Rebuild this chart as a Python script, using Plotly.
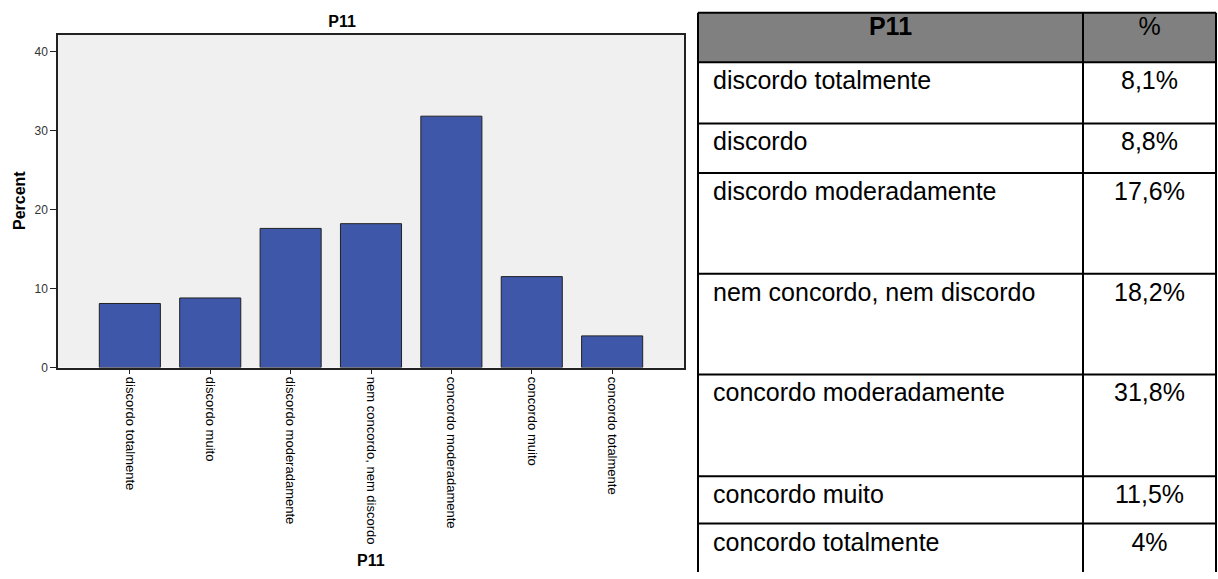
import plotly.graph_objects as go

# ---------------- data ----------------
categories = ["discordo totalmente", "discordo muito", "discordo moderadamente",
              "nem concordo, nem discordo", "concordo moderadamente",
              "concordo muito", "concordo totalmente"]
percent = [8.1, 8.8, 17.6, 18.2, 31.8, 11.5, 4.0]
y_ticks = [0, 10, 20, 30, 40]
table_labels = ["discordo totalmente", "discordo", "discordo moderadamente",
                "nem concordo, nem discordo", "concordo moderadamente",
                "concordo muito", "concordo totalmente"]
table_header = ["P11", "%"]
chart_title = "P11"
x_title = "P11"
y_title = "Percent"

# ---------------- style ----------------
W, H = 1218, 579
FONT = "Arial, 'Liberation Sans', sans-serif"
BAR_COLOR = "#3E57A9"
PLOT_BG = "#F0F0F0"
HEADER_BG = "#808080"
ROW_HEIGHTS = [50, 62, 50, 102, 102, 103, 48, 60]   # header + rows (px)
COL_WIDTHS = [385, 133]
TEXT_OFFSET = 21
HEADER_TEXT_OFFSET = 16
TABLE_FONT = 25


def fmt(v):
    s = f"{v:.1f}".rstrip("0").rstrip(".")
    return s.replace(".", ",") + "%"


table_values = [fmt(v) for v in percent]

# plot area of the chart (px)
px_l, px_r, px_t, px_b = 58, 684, 35, 372
# table area (px)
tb_left, tb_top = 698, 13
pad = 3

fig = go.Figure()

fig.add_trace(go.Bar(
    x=categories, y=percent, width=0.76,
    marker=dict(color=BAR_COLOR, line=dict(color="#222222", width=1)),
    xaxis="x", yaxis="y", showlegend=False, hoverinfo="skip"))

# ---------------- table (hidden axes x2/y2) ----------------
tw = sum(COL_WIDTHS)
bounds = [0]
for h in ROW_HEIGHTS:
    bounds.append(bounds[-1] + h)
row_tops = bounds[1:-1]
col_x = [0, COL_WIDTHS[0], tw]

shapes = []
# chart background
shapes.append(dict(type="rect", xref="x domain", yref="y domain", x0=0, x1=1, y0=0, y1=1,
                   fillcolor=PLOT_BG, line=dict(width=0), layer="below"))
# header fill
shapes.append(dict(type="rect", xref="x2", yref="y2", x0=0, x1=tw, y0=0, y1=ROW_HEIGHTS[0],
                   fillcolor=HEADER_BG, line=dict(width=0), layer="below"))
for yb in bounds[:-1]:
    shapes.append(dict(type="line", xref="x2", yref="y2", x0=0, x1=tw, y0=yb, y1=yb,
                       line=dict(color="black", width=2)))
for xb in col_x:
    shapes.append(dict(type="line", xref="x2", yref="y2", x0=xb, x1=xb, y0=0, y1=bounds[-1],
                       line=dict(color="black", width=2)))

fig.add_trace(go.Scatter(
    x=[COL_WIDTHS[0] / 2, COL_WIDTHS[0] + COL_WIDTHS[1] / 2],
    y=[HEADER_TEXT_OFFSET] * 2,
    text=["<b>" + table_header[0] + "</b>", table_header[1]],
    mode="text", textposition="middle center",
    textfont=dict(size=TABLE_FONT, family=FONT, color="black"),
    xaxis="x2", yaxis="y2", showlegend=False, hoverinfo="skip", cliponaxis=False))

fig.add_trace(go.Scatter(
    x=[15] * len(table_labels),
    y=[t + TEXT_OFFSET for t in row_tops],
    text=table_labels, mode="text", textposition="middle right",
    textfont=dict(size=TABLE_FONT, family=FONT, color="black"),
    xaxis="x2", yaxis="y2", showlegend=False, hoverinfo="skip", cliponaxis=False))

fig.add_trace(go.Scatter(
    x=[COL_WIDTHS[0] + COL_WIDTHS[1] / 2] * len(table_values),
    y=[t + TEXT_OFFSET for t in row_tops],
    text=table_values, mode="text", textposition="middle center",
    textfont=dict(size=TABLE_FONT, family=FONT, color="black"),
    xaxis="x2", yaxis="y2", showlegend=False, hoverinfo="skip", cliponaxis=False))

ymax = (px_b - px_t) / 8.0  # 8 px per percent unit

fig.update_layout(
    width=W, height=H,
    margin=dict(l=0, r=0, t=0, b=0),
    paper_bgcolor="white", plot_bgcolor="rgba(0,0,0,0)",
    font=dict(family=FONT, color="black"),
    title=dict(text="<b>" + chart_title + "</b>", x=342 / W, xanchor="center",
               y=1 - 21 / H, yanchor="middle", font=dict(size=16, family=FONT, color="black")),
    xaxis=dict(domain=[px_l / W, px_r / W], type="category", range=[-0.894, 6.894],
               tickangle=90, ticks="outside", ticklen=5, tickcolor="#222222",
               showline=True, linecolor="#222222", linewidth=1.5, mirror=True,
               showgrid=False, zeroline=False,
               tickfont=dict(size=13, family=FONT, color="black")),
    yaxis=dict(domain=[1 - px_b / H, 1 - px_t / H], range=[0, ymax], tickvals=y_ticks,
               ticks="outside", ticklen=6, tickcolor="#222222",
               showline=True, linecolor="#222222", linewidth=1.5, mirror=True,
               showgrid=False, zeroline=False,
               tickfont=dict(size=12, family=FONT, color="#333333")),
    xaxis2=dict(domain=[(tb_left - pad) / W, 1], range=[-pad, W - tb_left],
                visible=False, fixedrange=True),
    yaxis2=dict(domain=[0, 1 - (tb_top - pad) / H], range=[H - tb_top, -pad],
                visible=False, fixedrange=True),
    shapes=shapes,
    annotations=[
        dict(text="<b>" + y_title + "</b>", textangle=-90, x=19 / W, y=1 - 203.5 / H,
             xref="paper", yref="paper", showarrow=False, xanchor="center", yanchor="middle",
             font=dict(size=16, family=FONT, color="black")),
        dict(text="<b>" + x_title + "</b>", x=371 / W, y=1 - 567 / H,
             xref="paper", yref="paper", showarrow=False, xanchor="center", yanchor="middle",
             font=dict(size=16, family=FONT, color="black")),
    ],
)

fig.write_html("out.html", config={"displayModeBar": False},
               post_script="document.body.style.margin='0';document.body.style.overflow='hidden';")
